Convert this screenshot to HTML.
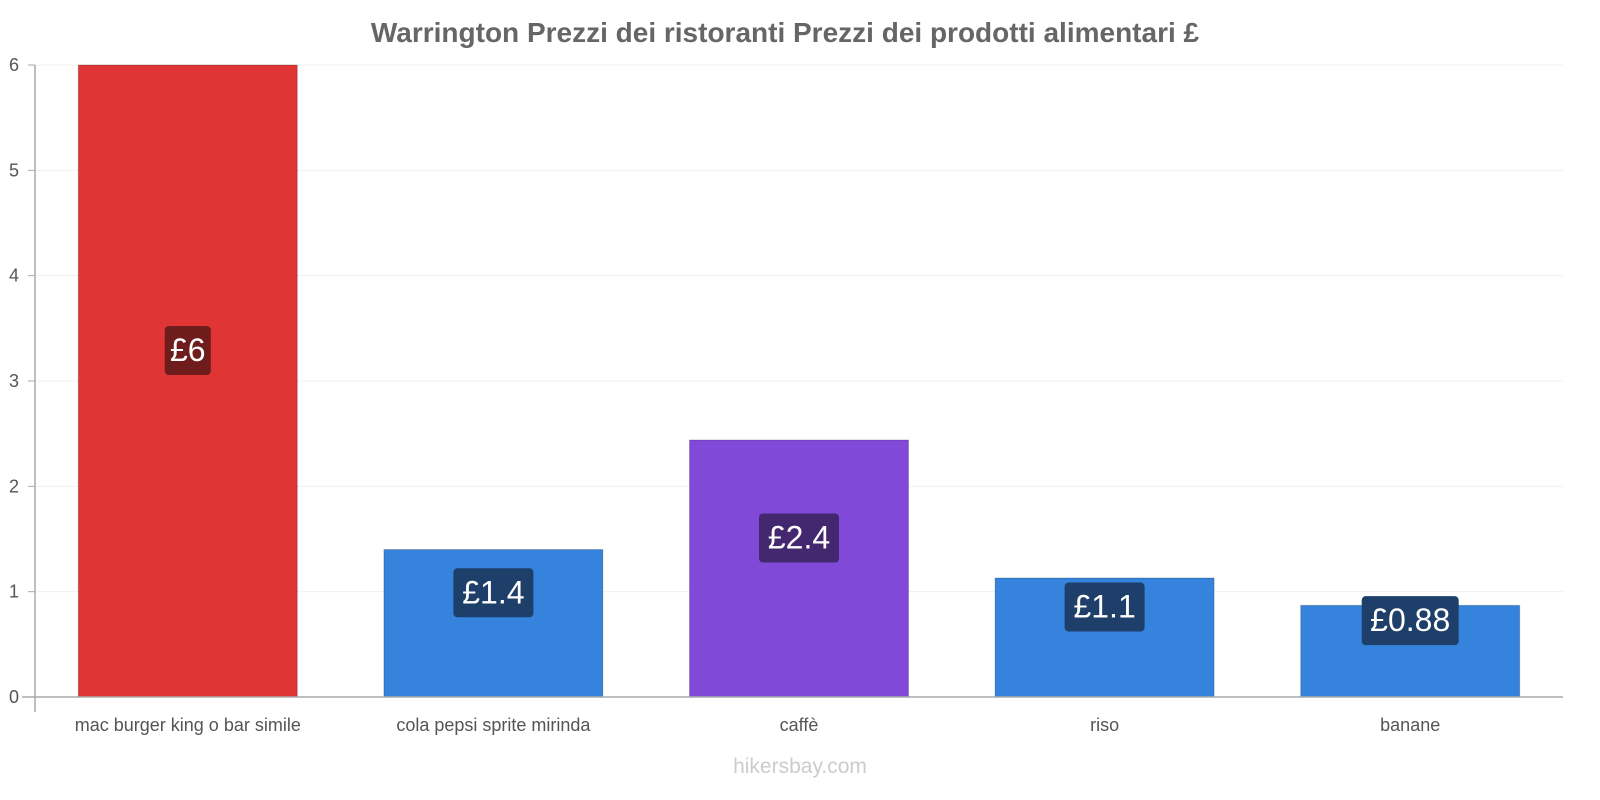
<!DOCTYPE html>
<html><head><meta charset="utf-8"><style>
html,body{margin:0;padding:0;background:#fff;font-family:"Liberation Sans",sans-serif;width:1600px;height:800px;overflow:hidden}
svg{display:block}
</style></head><body>
<svg width="1600" height="800" xmlns="http://www.w3.org/2000/svg">
<text x="785" y="42" text-anchor="middle" font-size="28" font-weight="bold" fill="#666">Warrington Prezzi dei ristoranti Prezzi dei prodotti alimentari £</text>
<g id="grid"></g><g id="bars"></g><g id="labels"></g>
<line x1="35" y1="65" x2="35" y2="712" stroke="#aaa" stroke-width="1.5"/>
<line x1="22" y1="697" x2="1563" y2="697" stroke="#aaa" stroke-width="1.5"/>
<text x="800" y="773" text-anchor="middle" font-size="21" fill="#ccc">hikersbay.com</text>
</svg>
<script>
const categories=["mac burger king o bar simile","cola pepsi sprite mirinda","caffè","riso","banane"];
const values=[6,1.4,2.44,1.13,0.87];
const valueLabels=["£6","£1.4","£2.4","£1.1","£0.88"];
const yTicks=[0,1,2,3,4,5,6];
const colors=["#e03535","#3583dc","#8049d8","#3583dc","#3583dc"];
const boxColors=["#6e1c1c","#1e3f6a","#43286f","#1e3f6a","#1e3f6a"];
const NS="http://www.w3.org/2000/svg";
const x0=35,x1=1563,yb=697,yt=65,ymax=6;
const y=v=>yb-(yb-yt)*v/ymax;
const band=(x1-x0)/categories.length;
const xc=i=>x0+band*(i+0.5);
function mk(t,a,p){const e=document.createElementNS(NS,t);for(const k in a)e.setAttribute(k,a[k]);p.appendChild(e);return e;}
const grid=document.getElementById('grid'),bars=document.getElementById('bars'),labels=document.getElementById('labels');
yTicks.forEach(t=>{
 if(t>0){const l=mk('line',{x1:x0,x2:x1,y1:y(t),y2:y(t),stroke:'#f0f0f0'},grid);
 
 }
 const tx=mk('text',{x:14,y:y(t)+6,'text-anchor':'middle','font-size':18,fill:'#555'},grid);tx.textContent=t;
 
 
 const tk=mk('line',{x1:28,x2:35,y1:y(t),y2:y(t),stroke:'#aaa'},grid);
 
 
});
categories.forEach((c,i)=>{
 const bw=219;
 const r=mk('rect',{x:xc(i)-bw/2,y:y(values[i]),width:bw,height:yb-y(values[i]),fill:colors[i],stroke:'rgba(0,0,0,0.2)'},bars);
 
 
 const xl=mk('text',{x:xc(i),y:731,'text-anchor':'middle','font-size':18,fill:'#555'},labels);xl.textContent=c;
 
 
 const cy=(y(values[i])+yb)/2-31;
 const txt=valueLabels[i];const w=txt.length*17+12;
 const b=mk('rect',{x:xc(i)-w/2,y:cy-24,width:w,height:49,rx:4,fill:boxColors[i]},labels);
 
 
 const vt=mk('text',{x:xc(i),y:cy+11,'text-anchor':'middle','font-size':32,fill:'#fff'},labels);vt.textContent=txt;
 
 
});
</script>
</body></html>
